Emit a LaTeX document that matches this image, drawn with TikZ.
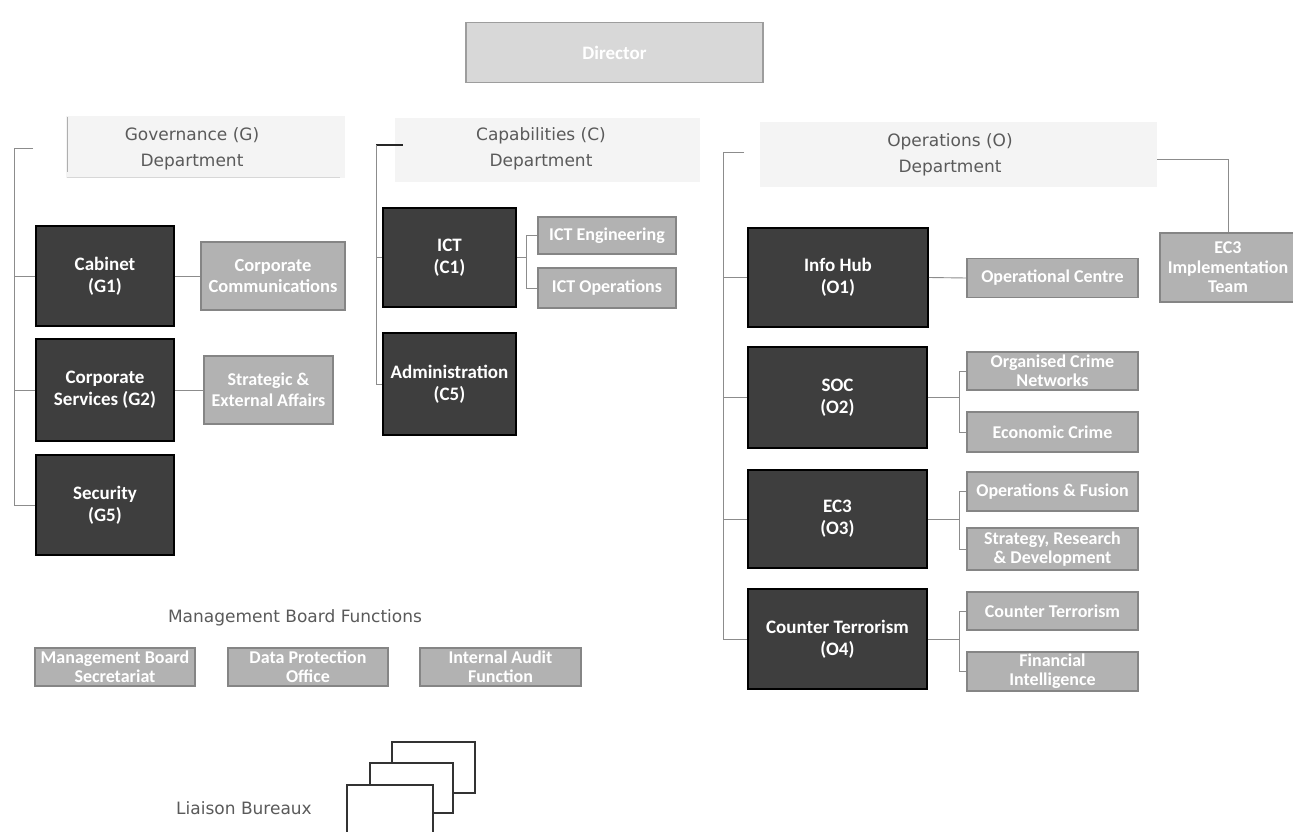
\documentclass[tikz,border=0pt]{standalone}
\usepackage{fontspec}
\setmainfont{Carlito}
\newfontfamily\headfont{DejaVu Sans}
\definecolor{darkbox}{HTML}{3E3E3E}
\definecolor{subbox}{HTML}{B2B2B2}
\definecolor{subborder}{HTML}{858585}
\definecolor{linec}{HTML}{8C8C8C}
\definecolor{headc}{HTML}{F4F4F4}
\definecolor{headtext}{HTML}{5A5A5A}
\definecolor{dirfill}{HTML}{D8D8D8}
\tikzset{
  unitbox/.style={draw=black, line width=1.6pt, fill=darkbox, text=white,
    font=\bfseries\fontsize{19}{22}\selectfont, align=center, inner sep=0pt},
  subunit/.style={draw=subborder, line width=1.3pt, fill=subbox, text=white,
    font=\bfseries\fontsize{18}{19}\selectfont, align=center, inner sep=0pt},
  dirbox/.style={draw=subborder!80, line width=1.2pt, fill=dirfill, text=white,
    font=\bfseries\fontsize{19}{22}\selectfont, align=center, inner sep=0pt},
  headbg/.style={fill=headc, draw=none},
  headlabel/.style={text=headtext, font=\headfont\fontsize{17}{26}\selectfont, align=center, inner sep=0pt},
  plainlabel/.style={text=headtext, font=\headfont\fontsize{17}{20}\selectfont, inner sep=0pt},
  conn/.style={draw=linec, line width=0.9pt},
  boldtick/.style={draw=black!85, line width=1.8pt},
  liaison/.style={draw=black!80, line width=1.3pt, fill=white}
}
\begin{document}
\begin{tikzpicture}[x=1pt,y=-1pt]
\useasboundingbox (0,0) rectangle (1293,832);
\clip (0,0) rectangle (1293,832);
\fill[white] (0,0) rectangle (1293,832);

% Director
\node[dirbox, minimum width=297, minimum height=60] (dir) at (614.5,52.5) {Director};

% Department headers
\fill[headbg] (66,116) rectangle (345,178);
\draw[conn, draw=linec!70] (67,117) -- (67,172);
\draw[conn, draw=linec!35] (67,177) -- (340,177);
\node[headlabel] (gov) at (192,148.5) {Governance (G)\\Department};

\fill[headbg] (395,118) rectangle (700,182);
\node[headlabel] (cap) at (541,149) {Capabilities (C)\\Department};

\fill[headbg] (760,122) rectangle (1157,187);
\node[headlabel] (ops) at (950,155) {Operations (O)\\Department};

% Governance units
\node[unitbox, minimum width=138, minimum height=100] (cab) at (105,276) {Cabinet\\(G1)};
\node[unitbox, minimum width=138, minimum height=102] (cs) at (105,390) {Corporate\\Services (G2)};
\node[unitbox, minimum width=138, minimum height=100] (sec) at (105,505) {Security\\(G5)};
\node[subunit, minimum width=144, minimum height=68, font=\bfseries\fontsize{18.5}{21}\selectfont] (cc) at (273,276) {Corporate\\Communications};
\node[subunit, minimum width=129, minimum height=68, font=\bfseries\fontsize{18}{21}\selectfont] (sea) at (268.5,390) {Strategic \&\\External Affairs};

\coordinate (gb) at (14,148);
\coordinate (gt) at (33,148);
\draw[conn] (gt) -- (gb) |- (sec.west);
\draw[conn] (cab.west) -- (cab.west -| gb);
\draw[conn] (cs.west) -- (cs.west -| gb);
\draw[conn] (cab.east) -- (cc.west);
\draw[conn] (cs.east) -- (sea.west);

% Capabilities units
\node[unitbox, minimum width=133, minimum height=99] (ict) at (449.5,257.5) {ICT\\(C1)};
\node[unitbox, minimum width=133, minimum height=102] (adm) at (449.5,384) {Administration\\(C5)};
\node[subunit, minimum width=138, minimum height=37] (ice) at (607,235.5) {ICT Engineering};
\node[subunit, minimum width=138, minimum height=40] (ico) at (607,288) {ICT Operations};

\coordinate (cb) at (376,145);
\coordinate (ct) at (403,145);
\draw[boldtick] (cb) -- (ct);
\draw[conn] (cb) |- (adm.west);
\draw[conn] (ict.west) -- (ict.west -| cb);
\coordinate (ictf) at (526,257.5);
\draw[conn] (ict.east) -- (ictf);
\draw[conn] (ictf) |- (ice.west);
\draw[conn] (ictf) |- (ico.west);

% Operations units
\node[unitbox, minimum width=180, minimum height=99] (ih) at (838,277.5) {Info Hub\\(O1)};
\node[unitbox, minimum width=179, minimum height=101] (soc) at (837.5,397.5) {SOC\\(O2)};
\node[unitbox, minimum width=179, minimum height=98] (ecc) at (837.5,519) {EC3\\(O3)};
\node[unitbox, minimum width=179, minimum height=100] (cter) at (837.5,639) {Counter Terrorism\\(O4)};

\node[subunit, minimum width=171, minimum height=39] (oc) at (1052.5,278) {Operational Centre};
\node[subunit, minimum width=171, minimum height=38] (ocn) at (1052.5,371) {Organised Crime\\Networks};
\node[subunit, minimum width=171, minimum height=40] (eco) at (1052.5,432) {Economic Crime};
\node[subunit, minimum width=171, minimum height=39] (opf) at (1052.5,491.5) {Operations \& Fusion};
\node[subunit, minimum width=171, minimum height=42] (srd) at (1052.5,549) {Strategy, Research\\\& Development};
\node[subunit, minimum width=171, minimum height=38] (cts) at (1052.5,611) {Counter Terrorism};
\node[subunit, minimum width=171, minimum height=39] (fin) at (1052.5,671.5) {Financial\\Intelligence};
\node[subunit, minimum width=136, minimum height=69, font=\bfseries\fontsize{18}{19.5}\selectfont] (impl) at (1228,267.5) {EC3\\Implementation\\Team};

\coordinate (ob) at (723,152);
\coordinate (otk) at (744,152);
\draw[conn] (otk) -- (ob) |- (cter.west);
\draw[conn] (ih.west) -- (ih.west -| ob);
\draw[conn] (soc.west) -- (soc.west -| ob);
\draw[conn] (ecc.west) -- (ecc.west -| ob);

\draw[conn] (ih.east) -- (oc.west);
\coordinate (f2) at (959,397.5);
\draw[conn] (soc.east) -- (f2);
\draw[conn] (f2) |- (ocn.west);
\draw[conn] (f2) |- (eco.west);
\coordinate (f3) at (959,519);
\draw[conn] (ecc.east) -- (f3);
\draw[conn] (f3) |- (opf.west);
\draw[conn] (f3) |- (srd.west);
\coordinate (f4) at (959,639);
\draw[conn] (cter.east) -- (f4);
\draw[conn] (f4) |- (cts.west);
\draw[conn] (f4) |- (fin.west);

\coordinate (oh) at (1157,159);
\draw[conn] (oh) -| (impl.north);

% Management Board Functions
\node[plainlabel] (mbf) at (295,618) {Management Board Functions};
\node[subunit, minimum width=160, minimum height=38] (mbs) at (115,667) {Management Board\\Secretariat};
\node[subunit, minimum width=160, minimum height=38] (dpo) at (308,667) {Data Protection\\Office};
\node[subunit, minimum width=161, minimum height=38] (iaf) at (500.5,667) {Internal Audit\\Function};

% Liaison Bureaux
\node[plainlabel] (lb) at (244,808) {Liaison Bureaux};
\draw[liaison] (392,742) rectangle (475,793);
\draw[liaison] (370,763) rectangle (453,813);
\draw[liaison] (347,785) rectangle (433,845);
\end{tikzpicture}
\end{document}
